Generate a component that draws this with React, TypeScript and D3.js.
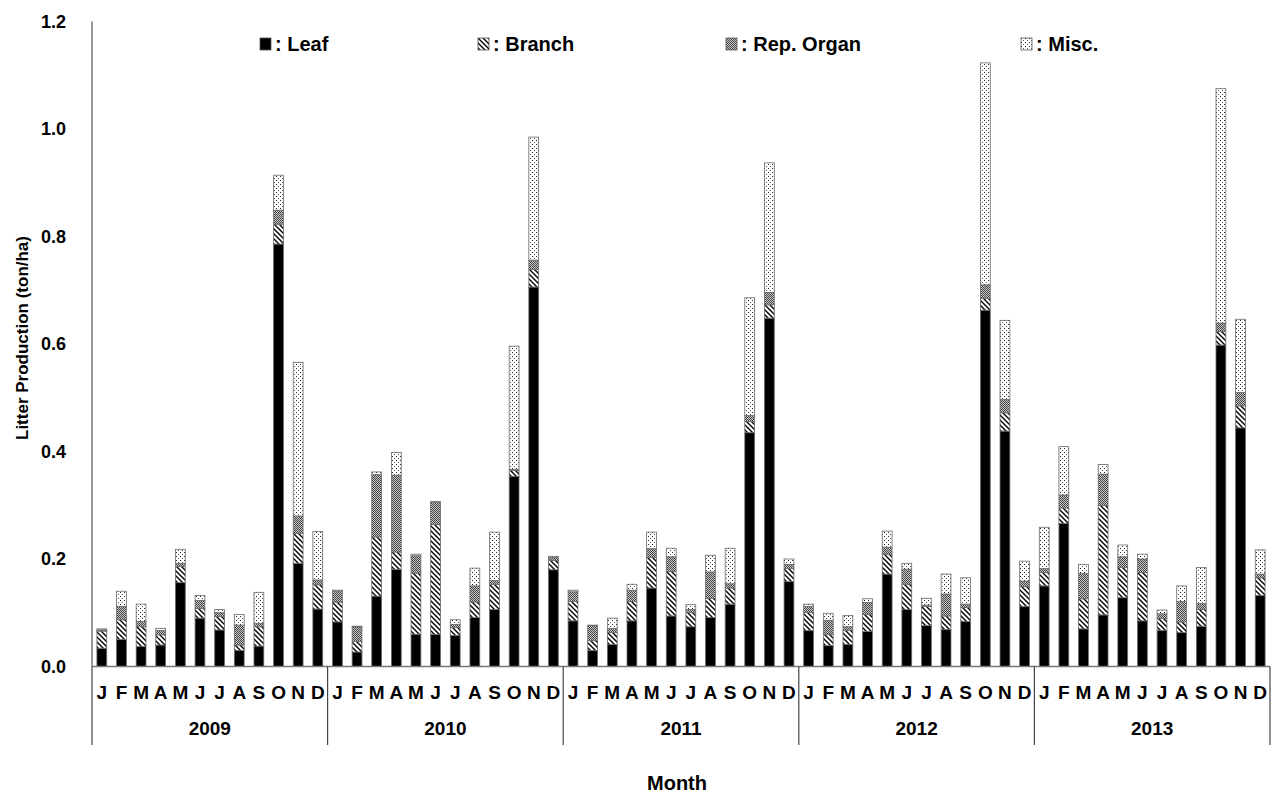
import * as d3 from "d3";

const months = ["J", "F", "M", "A", "M", "J", "J", "A", "S", "O", "N", "D"];
const years = ["2009", "2010", "2011", "2012", "2013"];
const seriesNames = ["Leaf", "Branch", "Rep. Organ", "Misc."];
const yTicks = [0, 0.2, 0.4, 0.6, 0.8, 1.0, 1.2];

const leaf = [
  0.034, 0.05, 0.037, 0.04, 0.156, 0.09, 0.068, 0.03, 0.038, 0.786, 0.192, 0.107,
  0.083, 0.027, 0.131, 0.181, 0.06, 0.06, 0.058, 0.091, 0.106, 0.354, 0.706, 0.18,
  0.085, 0.03, 0.041, 0.085, 0.146, 0.094, 0.074, 0.091, 0.116, 0.435, 0.648, 0.158,
  0.067, 0.039, 0.041, 0.065, 0.172, 0.106, 0.076, 0.069, 0.084, 0.663, 0.438, 0.112,
  0.15, 0.266, 0.07, 0.096, 0.128, 0.085, 0.067, 0.063, 0.075, 0.598, 0.444, 0.132,
];
const branch = [
  0.032, 0.037, 0.037, 0.019, 0.03, 0.018, 0.025, 0.01, 0.036, 0.037, 0.056, 0.045,
  0.037, 0.02, 0.11, 0.032, 0.114, 0.204, 0.015, 0.029, 0.047, 0.011, 0.033, 0.017,
  0.036, 0.018, 0.022, 0.036, 0.057, 0.083, 0.026, 0.036, 0.03, 0.021, 0.025, 0.024,
  0.034, 0.021, 0.026, 0.032, 0.037, 0.047, 0.036, 0.025, 0.026, 0.022, 0.034, 0.037,
  0.025, 0.029, 0.056, 0.204, 0.056, 0.09, 0.022, 0.02, 0.031, 0.025, 0.041, 0.033,
];
const repOrgan = [
  0.002, 0.025, 0.01, 0.008, 0.006, 0.015, 0.007, 0.037, 0.006, 0.026, 0.032, 0.009,
  0.02, 0.027, 0.116, 0.143, 0.032, 0.041, 0.005, 0.03, 0.007, 0.002, 0.017, 0.006,
  0.018, 0.028, 0.008, 0.021, 0.016, 0.027, 0.006, 0.049, 0.008, 0.011, 0.023, 0.008,
  0.011, 0.026, 0.007, 0.022, 0.013, 0.028, 0.002, 0.041, 0.006, 0.025, 0.025, 0.01,
  0.007, 0.024, 0.047, 0.058, 0.02, 0.025, 0.009, 0.038, 0.011, 0.016, 0.025, 0.007,
];
const misc = [
  0.002, 0.028, 0.032, 0.004, 0.026, 0.009, 0.006, 0.02, 0.058, 0.065, 0.286, 0.09,
  0.002, 0.001, 0.005, 0.042, 0.003, 0.002, 0.009, 0.033, 0.09, 0.229, 0.229, 0.002,
  0.003, 0.001, 0.019, 0.011, 0.031, 0.016, 0.009, 0.031, 0.066, 0.219, 0.241, 0.01,
  0.004, 0.013, 0.021, 0.007, 0.03, 0.011, 0.013, 0.037, 0.049, 0.413, 0.147, 0.037,
  0.077, 0.09, 0.017, 0.018, 0.022, 0.009, 0.007, 0.029, 0.067, 0.436, 0.136, 0.045,
];

const width = 1271;
const height = 793;
const left = 92;
const right = 1270;
const bottom = 666.5;
const top = 21.5;
const font = "'Liberation Sans', Arial, sans-serif";

const fills = ["#000", "url(#hatch)", "url(#rep)", "url(#dots)"];
const legendX = [260, 478, 726, 1021];

export default function App() {
  const rows = leaf.map((_, i) => ({
    i,
    Leaf: leaf[i],
    Branch: branch[i],
    "Rep. Organ": repOrgan[i],
    "Misc.": misc[i],
  }));
  const stack = d3.stack<any>().keys(seriesNames)(rows);

  const x = d3
    .scaleBand<number>()
    .domain(d3.range(rows.length))
    .range([left, right])
    .paddingInner(0.5)
    .paddingOuter(0.25);
  const y = d3.scaleLinear().domain([0, 1.2]).range([bottom, top]);
  const yearW = (right - left) / years.length;

  return (
    <svg
      width={width}
      height={height}
      style={{ position: "absolute", left: 0, top: 0, display: "block", background: "#fff" }}
      fontFamily={font}
      fontWeight="bold"
    >
      <defs>
        <pattern id="hatch" patternUnits="userSpaceOnUse" width={5} height={5}>
          <rect width={5} height={5} fill="#fff" />
          <path d="M-1,-1 L6,6 M-1,4 L1,6 M4,-1 L6,1" stroke="#000" strokeWidth={1.4} />
        </pattern>
        <pattern id="rep" patternUnits="userSpaceOnUse" width={2} height={2}>
          <rect width={2} height={2} fill="#c8c8c8" />
          <rect width={1} height={1} fill="#444" />
          <rect x={1} y={1} width={1} height={1} fill="#444" />
        </pattern>
        <pattern id="dots" patternUnits="userSpaceOnUse" width={4} height={4}>
          <rect width={4} height={4} fill="#fff" />
          <rect x={0} y={0} width={1} height={1} fill="#222" />
          <rect x={2} y={2} width={1} height={1} fill="#555" />
        </pattern>
      </defs>

      {/* bars */}
      {stack.map((s, k) => (
        <g key={s.key}>
          {s.map((d, i) => (
            <rect
              key={i}
              x={x(i)}
              y={y(d[1])}
              width={x.bandwidth()}
              height={Math.max(0, y(d[0]) - y(d[1]))}
              fill={fills[k]}
              stroke="#6a6a6a"
              strokeWidth={0.8}
            />
          ))}
        </g>
      ))}

      {/* axes */}
      <line x1={left} x2={left} y1={top} y2={bottom} stroke="#777" strokeWidth={1.5} />
      <line x1={left} x2={right} y1={bottom} y2={bottom} stroke="#777" strokeWidth={1.5} />
      {d3.range(years.length + 1).map(j => (
        <line
          key={j}
          x1={left + j * yearW}
          x2={left + j * yearW}
          y1={bottom}
          y2={745}
          stroke="#444"
          strokeWidth={1.2}
        />
      ))}

      {yTicks.map(t => (
        <text key={t} x={66} y={y(t)} dy="0.36em" textAnchor="end" fontSize={18}>
          {d3.format(".1f")(t)}
        </text>
      ))}

      {rows.map((d, i) => (
        <text key={i} x={x(i)! + x.bandwidth() / 2} y={692} dy="0.36em" textAnchor="middle" fontSize={19}>
          {months[i % 12]}
        </text>
      ))}
      {years.map((yr, j) => (
        <text key={yr} x={left + (j + 0.5) * yearW} y={728} dy="0.36em" textAnchor="middle" fontSize={19}>
          {yr}
        </text>
      ))}

      <text x={677} y={783} dy="0.36em" textAnchor="middle" fontSize={20}>
        Month
      </text>
      <text
        transform={`translate(28,338) rotate(-90)`}
        textAnchor="middle"
        fontSize={17}
      >
        Litter Production (ton/ha)
      </text>

      {/* legend */}
      {seriesNames.map((n, k) => (
        <g key={n} transform={`translate(${legendX[k]},38)`}>
          <rect width={11} height={12} fill={fills[k]} stroke="#555" strokeWidth={0.8} />
          <text x={15} y={6} dy="0.36em" fontSize={20}>
            : {n}
          </text>
        </g>
      ))}
    </svg>
  );
}
